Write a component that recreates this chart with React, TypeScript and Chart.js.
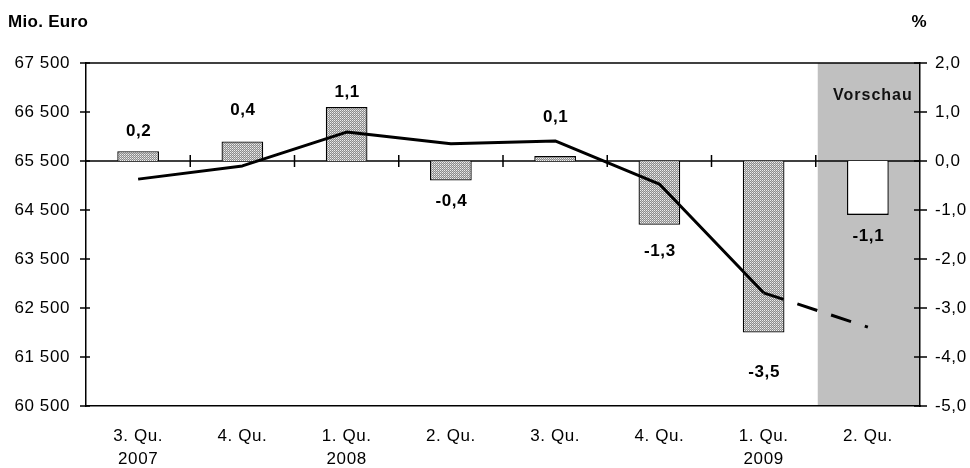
import { useEffect, useRef } from 'react';
import { Chart, registerables } from 'chart.js';

Chart.register(...registerables);

// ---- data ----
const categories: string[][] = [
  ['3. Qu.', '2007'],
  ['4. Qu.', ''],
  ['1. Qu.', '2008'],
  ['2. Qu.', ''],
  ['3. Qu.', ''],
  ['4. Qu.', ''],
  ['1. Qu.', '2009'],
  ['2. Qu.', ''],
];
const changePercent = [0.2, 0.4, 1.1, -0.4, 0.1, -1.3, -3.5, -1.1];
const valueMioEuro = [65130, 65400, 66090, 65850, 65910, 65030, 62810, 62110];
const leftAxisRange = [60500, 67500];
const leftAxisStep = 1000;
const rightAxisRange = [-5, 2];
const rightAxisStep = 1;
const forecastIndex = 7;
const forecastLabel = 'Vorschau';
const leftTitle = 'Mio. Euro';
const rightTitle = '%';

// ---- styling ----
const FONT = '"Liberation Sans", Arial, Helvetica, sans-serif';
const labelShift = [20, 31, 15, 21, 39, 27, 40, 21];

const fmtThousands = (v: number) =>
  String(Math.round(v)).replace(/\B(?=(\d{3})+(?!\d))/g, ' ');
const fmtDecimal = (v: number) => v.toFixed(1).replace('.', ',').replace('-0,0', '0,0');

function makePattern(): CanvasPattern | string {
  const c = document.createElement('canvas');
  c.width = 2;
  c.height = 2;
  const g = c.getContext('2d');
  if (!g) return '#bebebe';
  g.fillStyle = '#eeeeee';
  g.fillRect(0, 0, 1, 1);
  g.fillStyle = '#8c8c8c';
  g.fillRect(1, 0, 1, 1);
  g.fillRect(0, 1, 1, 1);
  g.fillStyle = '#c4c4c4';
  g.fillRect(1, 1, 1, 1);
  const p = g.createPattern(c, 'repeat');
  return p || '#bebebe';
}

const decorPlugin = {
  id: 'decor',
  beforeDraw(chart: any) {
    const { ctx, chartArea: a, scales } = chart;
    const x = scales.x;
    const bandLeft =
      (x.getPixelForValue(forecastIndex - 1) + x.getPixelForValue(forecastIndex)) / 2 + 2;
    ctx.save();
    ctx.fillStyle = '#c0c0c0';
    ctx.fillRect(bandLeft, a.top, a.right - bandLeft, a.bottom - a.top);
    ctx.restore();
    (ctx as any).letterSpacing = '0.6px';
  },
  beforeDatasetsDraw(chart: any) {
    const { ctx, chartArea: a, scales } = chart;
    const x = scales.x;
    const y = scales.y;
    const y1 = scales.y1;
    const zero = y1.getPixelForValue(0);
    ctx.save();
    ctx.strokeStyle = '#000';
    ctx.lineWidth = 1.5;
    ctx.beginPath();
    ctx.moveTo(a.left, a.top);
    ctx.lineTo(a.right, a.top);
    ctx.stroke();
    ctx.beginPath();
    ctx.moveTo(a.left, zero);
    ctx.lineTo(a.right, zero);
    ctx.stroke();
    for (let i = 1; i < categories.length; i++) {
      const px = (x.getPixelForValue(i - 1) + x.getPixelForValue(i)) / 2;
      ctx.beginPath();
      ctx.moveTo(px, zero - 6);
      ctx.lineTo(px, zero + 6);
      ctx.stroke();
    }
    y.ticks.forEach((t: any) => {
      const py = y.getPixelForValue(t.value);
      ctx.beginPath();
      ctx.moveTo(a.left - 6, py);
      ctx.lineTo(a.left + 4, py);
      ctx.stroke();
    });
    y1.ticks.forEach((t: any) => {
      const py = y1.getPixelForValue(t.value);
      ctx.beginPath();
      ctx.moveTo(a.right - 6, py);
      ctx.lineTo(a.right + 7, py);
      ctx.stroke();
    });
    ctx.restore();
  },
  afterDatasetsDraw(chart: any) {
    const { ctx, chartArea: a, scales } = chart;
    const x = scales.x;
    const meta = chart.getDatasetMeta(0);
    ctx.save();
    ctx.fillStyle = '#000';
    ctx.textAlign = 'center';
    ctx.textBaseline = 'middle';
    ctx.font = `bold 17px ${FONT}`;
    (ctx as any).letterSpacing = '0.6px';
    meta.data.forEach((el: any, i: number) => {
      const v = changePercent[i];
      const yy = v >= 0 ? el.y - labelShift[i] : el.y + labelShift[i];
      ctx.fillText(fmtDecimal(v), el.x + 0.5, yy);
    });
    const bandLeft =
      (x.getPixelForValue(forecastIndex - 1) + x.getPixelForValue(forecastIndex)) / 2 + 2;
    ctx.font = `bold 16px ${FONT}`;
    (ctx as any).letterSpacing = '1px';
    ctx.fillStyle = '#111';
    ctx.fillText(forecastLabel, (bandLeft + a.right) / 2 + 4, a.top + 33);
    ctx.fillStyle = '#000';
    ctx.font = `bold 17px ${FONT}`;
    (ctx as any).letterSpacing = '0.3px';
    ctx.textAlign = 'left';
    ctx.fillText(leftTitle, 8, 22);
    ctx.textAlign = 'right';
    ctx.fillText(rightTitle, a.right + 7, 22);
    ctx.restore();
  },
  afterDraw(chart: any) {
    (chart.ctx as any).letterSpacing = '0px';
  },
};

export default function App() {
  const ref = useRef<HTMLCanvasElement | null>(null);

  useEffect(() => {
    document.body.style.margin = '0';
    if (!ref.current) return;
    const pattern = makePattern();
    const chart = new Chart(ref.current, {
      data: {
        labels: categories,
        datasets: [
          {
            type: 'bar',
            label: 'Veränderung in %',
            data: changePercent,
            yAxisID: 'y1',
            backgroundColor: changePercent.map((_, i) => (i === forecastIndex ? '#ffffff' : pattern)) as any,
            borderColor: '#000',
            borderWidth: 1.3,
            barPercentage: 0.4,
            categoryPercentage: 1,
            order: 2,
          },
          {
            type: 'line',
            label: 'Mio. Euro',
            data: valueMioEuro,
            yAxisID: 'y',
            borderColor: '#000',
            borderWidth: 3,
            pointRadius: 0,
            tension: 0,
            borderCapStyle: 'butt',
            borderJoinStyle: 'round',
            segment: {
              borderDash: (c: any) => (c.p1DataIndex === forecastIndex ? [21, 14.5] : undefined),
            },
            order: 1,
          },
        ] as any,
      },
      options: {
        animation: false,
        responsive: true,
        maintainAspectRatio: false,
        layout: { padding: { top: 63, left: 0, right: 0, bottom: 0 } },
        plugins: {
          legend: { display: false },
          tooltip: { enabled: false },
          title: { display: false },
        },
        scales: {
          x: {
            type: 'category',
            position: 'bottom',
            offset: true,
            grid: { display: false, drawTicks: false },
            border: { display: true, color: '#000', width: 1.5 },
            ticks: {
              color: '#000',
              font: { family: FONT, size: 17, lineHeight: 1.35 },
              padding: 19,
              maxRotation: 0,
              autoSkip: false,
            },
            afterFit: (s: any) => {
              s.height = 62;
            },
          },
          y: {
            type: 'linear',
            position: 'left',
            min: leftAxisRange[0],
            max: leftAxisRange[1],
            grid: { display: false, drawTicks: false },
            border: { display: true, color: '#000', width: 1.5 },
            ticks: {
              stepSize: leftAxisStep,
              color: '#000',
              font: { family: FONT, size: 17 },
              padding: 16,
              callback: (v: any) => fmtThousands(Number(v)),
            },
            afterFit: (s: any) => {
              s.width = 86;
            },
          },
          y1: {
            type: 'linear',
            position: 'right',
            min: rightAxisRange[0],
            max: rightAxisRange[1],
            grid: { display: false, drawTicks: false },
            border: { display: true, color: '#000', width: 1.5 },
            ticks: {
              stepSize: rightAxisStep,
              color: '#000',
              font: { family: FONT, size: 17 },
              padding: 15,
              callback: (v: any) => fmtDecimal(Number(v)),
            },
            afterFit: (s: any) => {
              s.width = 50;
            },
          },
        },
      } as any,
      plugins: [decorPlugin],
    });
    return () => chart.destroy();
  }, []);

  return (
    <div style={{ position: 'relative', width: '970px', height: '468px' }}>
      <canvas ref={ref} />
    </div>
  );
}
